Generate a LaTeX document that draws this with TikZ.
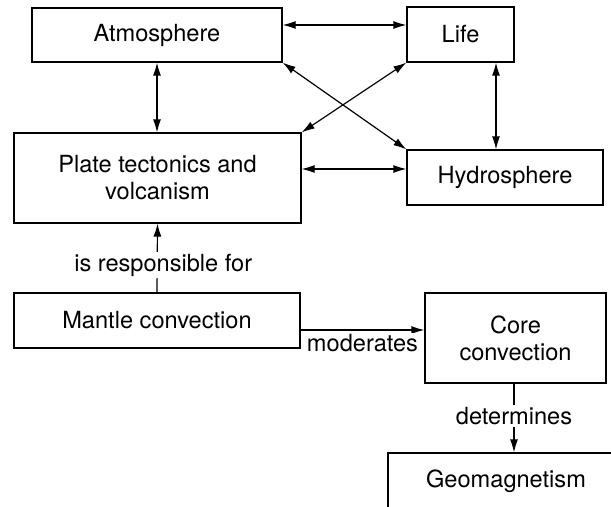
\documentclass[tikz,border=0pt]{standalone}
\usepackage{fontspec}
\setmainfont{TeX Gyre Heros}
\usetikzlibrary{arrows.meta}

\begin{document}
\begin{tikzpicture}[
        x=0.5pt, y=-0.5pt,
        block/.style={rectangle, draw, line width=0.6pt, inner sep=0pt, align=center,
            font=\fontsize{11.8}{13.5}\selectfont},
        both/.style={line width=0.6pt, {Latex[length=6.5pt,width=4pt]}-{Latex[length=6.5pt,width=4pt]}},
        single/.style={line width=0.6pt, -{Latex[length=6.5pt,width=4pt]}},
        tag/.style={fill=white, inner sep=1pt, font=\fontsize{11.8}{13.5}\selectfont}
    ]
    \clip (0,0) rectangle (611,507);

    % boxes
    \node[block, minimum width=125pt, minimum height=27pt] (atmos) at (157,35) {Atmosphere};
    \node[block, minimum width=53.5pt, minimum height=27.5pt] (life) at (460.5,34.5) {Life};
    \node[block, minimum width=143.5pt, minimum height=45pt] (plate) at (157.5,178) {Plate tectonics and\\volcanism};
    \node[block, minimum width=98pt, minimum height=27.5pt] (hydro) at (505,177.5) {Hydrosphere};
    \node[block, minimum width=143pt, minimum height=27.5pt] (mantle) at (157,320.5) {Mantle convection};
    \node[block, minimum width=90.5pt, minimum height=45pt] (core) at (515.5,338) {Core\\convection};
    \node[block, minimum width=118pt, minimum height=28pt] (geo) at (506,481) {Geomagnetism};

    % feedback between the outer spheres
    \draw[both] ([yshift=5pt]atmos.east) -- ([yshift=5pt]atmos.east -| life.west);
    \draw[both] (atmos.south) -- (atmos.south |- plate.north);
    \draw[both] ([xshift=-4.5pt]hydro.north) -- ([xshift=-4.5pt]hydro.north |- life.south);
    \draw[both] (atmos.south east) -- (hydro.north west);
    \draw[both] (life.south west) -- (plate.north east);
    \draw[both] ([yshift=4.5pt]plate.east) -- ([yshift=4.5pt]plate.east -| hydro.west);

    % deep interior
    \draw[single] (mantle.north) -- node[tag, xshift=3pt, yshift=-3.5pt] {is responsible for} (plate.south);
    \draw[single] ([yshift=-4.75pt]mantle.east) -- node[tag, below, yshift=-1pt] {moderates} ([yshift=-4.75pt]mantle.east -| core.west);
    \draw[single] ([xshift=-0.75pt]core.south) -- node[tag, yshift=1pt] {determines} ([xshift=-0.75pt]core.south |- geo.north);
\end{tikzpicture}
\end{document}
